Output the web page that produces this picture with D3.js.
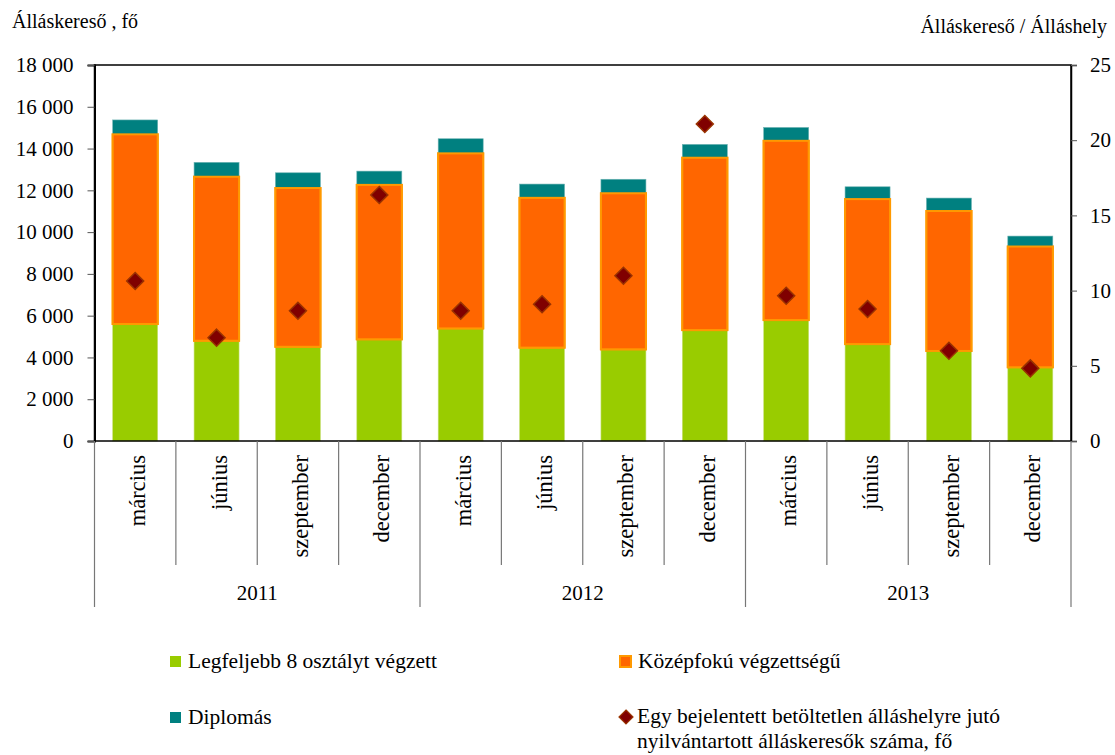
<!DOCTYPE html>
<html>
<head>
<meta charset="utf-8">
<script src="https://cdn.jsdelivr.net/npm/d3@7/dist/d3.min.js"></script>
<style>
  html, body { margin: 0; padding: 0; background: #fff; }
  svg { display: block; font-family: "Liberation Serif", "DejaVu Serif", serif; }
</style>
</head>
<body>
<svg id="chart" width="1115" height="755"></svg>
<script>
// ---- data ----
const months = ["március", "június", "szeptember", "december",
                "március", "június", "szeptember", "december",
                "március", "június", "szeptember", "december"];
const years = ["2011", "2012", "2013"];
const lowEdu = [5600, 4800, 4510, 4870, 5390, 4470, 4390, 5310, 5790, 4640, 4310, 3530];
const midEdu = [9080, 7850, 7600, 7390, 8380, 7170, 7470, 8250, 8580, 6940, 6700, 5780];
const degree = [690, 690, 730, 660, 700, 660, 670, 640, 640, 590, 620, 500];
const ratio = [10.64, 6.87, 8.66, 16.36, 8.66, 9.09, 10.99, 21.08, 9.66, 8.78, 6.0, 4.83];
const leftTicks = [0, 2000, 4000, 6000, 8000, 10000, 12000, 14000, 16000, 18000];
const rightTicks = [0, 5, 10, 15, 20, 25];
const seriesNames = ["Legfeljebb 8 osztályt végzett", "Középfokú végzettségű", "Diplomás"];
const ratioName = ["Egy bejelentett betöltetlen álláshelyre jutó", "nyilvántartott álláskeresők száma, fő"];
const leftTitle = "Álláskereső , fő";
const rightTitle = "Álláskereső / Álláshely";

const colors = { low: "#99CC00", mid: "#FF6600", midStroke: "#FF9900", deg: "#008080", dia: "#800000", diaStroke: "#993300" };
const FONT = "Liberation Serif, DejaVu Serif, serif";

// ---- layout ----
const svg = d3.select("#chart");
const L = 94.5, R = 1071, T = 65, B = 441;

const idx = months.map((m, i) => i);
const x = d3.scaleBand().domain(idx).range([L, R]).paddingInner(0.447).paddingOuter(0.2235);
const step = x.step();
const yL = d3.scaleLinear().domain([0, 18000]).range([B, T]);
const yR = d3.scaleLinear().domain([0, 25]).range([B, T]);

const loc = d3.formatLocale({ decimal: ",", thousands: "\u00a0", grouping: [3], currency: ["", ""] });
const fmt = loc.format(",.0f");

// stacked data
const rows = idx.map(i => ({ i, low: lowEdu[i], mid: midEdu[i], deg: degree[i] }));
const stack = d3.stack().keys(["low", "mid", "deg"]);
const layers = stack(rows);
const fills = { low: colors.low, mid: colors.mid, deg: colors.deg };

// bars
const gBars = svg.append("g");
layers.forEach(layer => {
  const key = layer.key;
  gBars.append("g").selectAll("rect").data(layer).join("rect")
    .attr("x", d => x(d.data.i))
    .attr("width", x.bandwidth())
    .attr("y", d => yL(d[1]))
    .attr("height", d => yL(d[0]) - yL(d[1]))
    .attr("fill", fills[key])
    .attr("stroke", key === "mid" ? colors.midStroke : (key === "low" ? "#c8e07a" : "#6fb3b3"))
    .attr("stroke-width", key === "mid" ? 2 : 0.6);
});
// redraw mid on top so its border overlaps neighbours
gBars.append("g").selectAll("rect").data(layers[1]).join("rect")
  .attr("x", d => x(d.data.i))
  .attr("width", x.bandwidth())
  .attr("y", d => yL(d[1]))
  .attr("height", d => yL(d[0]) - yL(d[1]))
  .attr("fill", colors.mid)
  .attr("stroke", colors.midStroke)
  .attr("stroke-width", 2);

// plot border
svg.append("rect").attr("x", L).attr("y", T).attr("width", R - L).attr("height", B - T)
  .attr("fill", "none").attr("stroke", "#000").attr("stroke-width", 1.5);

// left axis
const axL = svg.append("g").attr("transform", `translate(${L},0)`)
  .call(d3.axisLeft(yL).tickValues(leftTicks).tickFormat(fmt).tickSize(7).tickPadding(14));
axL.attr("font-family", FONT);
axL.select(".domain").attr("stroke", "#000").attr("stroke-width", 2);
axL.selectAll(".tick line").attr("stroke", "#555");
axL.selectAll("text").attr("font-family", FONT).attr("font-size", 21).attr("fill", "#000");

// right axis
const axR = svg.append("g").attr("transform", `translate(${R},0)`)
  .call(d3.axisRight(yR).tickValues(rightTicks).tickSize(6).tickPadding(13));
axR.attr("font-family", FONT);
axR.select(".domain").attr("stroke", "#000").attr("stroke-width", 1.5);
axR.selectAll(".tick line").attr("stroke", "#555");
axR.selectAll("text").attr("font-family", FONT).attr("font-size", 21).attr("fill", "#000");

// diamonds
const dPath = s => `M0,${-s}L${s},0L0,${s}L${-s},0Z`;
svg.append("g").selectAll("path").data(idx).join("path")
  .attr("transform", i => `translate(${x(i) + x.bandwidth() / 2},${yR(ratio[i])})`)
  .attr("d", dPath(8.5))
  .attr("fill", colors.dia)
  .attr("stroke", colors.diaStroke)
  .attr("stroke-width", 1.5);

// category axis: separators
const bounds = d3.range(0, months.length + 1);
const bx = k => L + k * step;
svg.append("g").selectAll("line").data(bounds).join("line")
  .attr("x1", k => bx(k)).attr("x2", k => bx(k))
  .attr("y1", B).attr("y2", k => (k % 4 === 0) ? 607 : 565)
  .attr("stroke", "#777").attr("stroke-width", 1.2);

// month labels
svg.append("g").attr("font-family", FONT).selectAll("text").data(idx).join("text")
  .attr("transform", i => `translate(${x(i) + x.bandwidth() / 2 + 1},455) rotate(-90)`)
  .attr("text-anchor", "end")
  .attr("dy", "0.4em")
  .attr("font-size", 22.5)
  .attr("fill", "#000")
  .text(i => months[i]);

// year labels
svg.append("g").attr("font-family", FONT).selectAll("text").data(years).join("text")
  .attr("x", (y, j) => bx(j * 4) + step * 2)
  .attr("y", 600)
  .attr("text-anchor", "middle")
  .attr("font-size", 21)
  .attr("fill", "#000")
  .text(y => y);

// titles
svg.append("text").attr("font-family", FONT).attr("x", 12).attr("y", 28).attr("font-size", 20).attr("fill", "#000").text(leftTitle);
svg.append("text").attr("font-family", FONT).attr("x", 1107).attr("y", 33).attr("text-anchor", "end").attr("font-size", 20).attr("fill", "#000").text(rightTitle);

// legend
const lg = svg.append("g").attr("font-family", FONT).attr("font-size", 21.5).attr("fill", "#000");
const legendItems = [
  { x: 170, y: 668, name: seriesNames[0], fill: colors.low, stroke: "none" },
  { x: 620, y: 668, name: seriesNames[1], fill: colors.mid, stroke: colors.midStroke },
  { x: 170, y: 724, name: seriesNames[2], fill: colors.deg, stroke: "none" }
];
legendItems.forEach(it => {
  lg.append("rect").attr("x", it.x).attr("y", it.y - 12).attr("width", 11).attr("height", 11)
    .attr("fill", it.fill).attr("stroke", it.stroke).attr("stroke-width", it.stroke === "none" ? 0 : 2);
  lg.append("text").attr("x", it.x + 18).attr("y", it.y).text(it.name);
});
lg.append("path").attr("transform", "translate(626,717)").attr("d", dPath(7))
  .attr("fill", colors.dia).attr("stroke", colors.diaStroke).attr("stroke-width", 1.2);
lg.append("text").attr("x", 637).attr("y", 723).text(ratioName[0]);
lg.append("text").attr("x", 637).attr("y", 748).text(ratioName[1]);
</script>
</body>
</html>
